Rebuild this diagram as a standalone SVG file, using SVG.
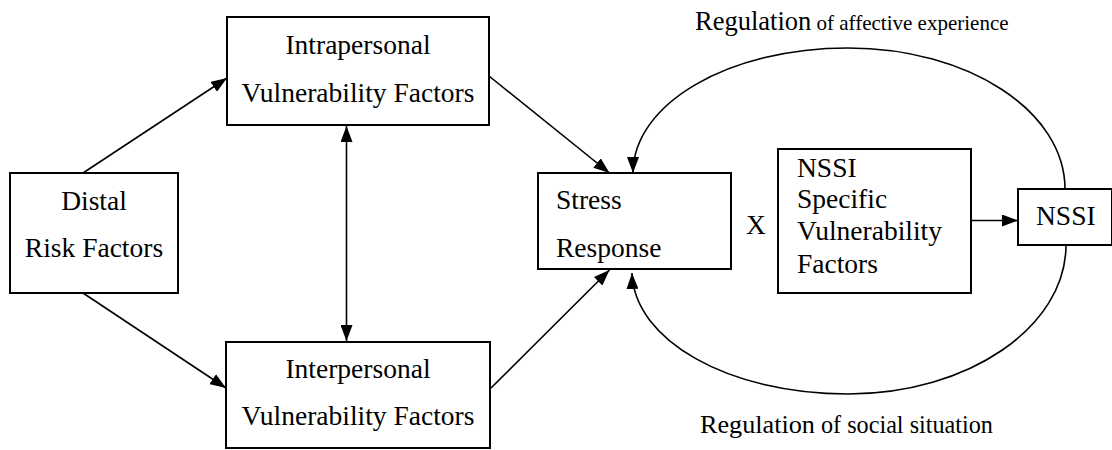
<svg xmlns="http://www.w3.org/2000/svg" width="1112" height="450" viewBox="0 0 1112 450">
<defs>
<style>
.box{fill:#fff;stroke:#000;stroke-width:2}
.t{font-family:"Liberation Serif","Times New Roman",serif;font-size:27.5px;fill:#000}
.c{text-anchor:middle}
.ln{fill:none;stroke:#000;stroke-width:1.6}
</style>
<marker id="ah" viewBox="0 0 16 12" markerWidth="16" markerHeight="12" refX="16" refY="6" orient="auto-start-reverse" markerUnits="userSpaceOnUse">
<path d="M0,0 L16,6 L0,12 z" fill="#000"/>
</marker>
</defs>
<rect width="1112" height="450" fill="#fff"/>
<g id="connectors">
<line class="ln" x1="83" y1="173" x2="227" y2="78" marker-end="url(#ah)"/>
<line class="ln" x1="83" y1="293" x2="226" y2="388" marker-end="url(#ah)"/>
<line class="ln" x1="489" y1="76" x2="609.5" y2="173" marker-end="url(#ah)"/>
<line class="ln" x1="491" y1="388" x2="609.5" y2="270" marker-end="url(#ah)"/>
<line class="ln" x1="346.5" y1="126" x2="346.5" y2="341" marker-start="url(#ah)" marker-end="url(#ah)"/>
<line class="ln" x1="971" y1="220.5" x2="1018" y2="220.5" marker-end="url(#ah)"/>
<path class="ln" d="M1065 189 C1065 111 968 48 848 48 C728 48 633 104 633 173" marker-end="url(#ah)"/>
<path class="ln" d="M1066 245 C1066 327 968 394 848 394 C728 394 634 340 632 273" marker-end="url(#ah)"/>
</g>
<g id="distal">
<rect class="box" x="10" y="173" width="168" height="120"/>
<text class="t c" x="94" y="210">Distal</text>
<text class="t c" x="94" y="257">Risk Factors</text>
</g>
<g id="intrapersonal">
<rect class="box" x="227" y="17" width="262" height="108"/>
<text class="t c" x="358" y="54">Intrapersonal</text>
<text class="t c" x="358" y="102">Vulnerability Factors</text>
</g>
<g id="interpersonal">
<rect class="box" x="226" y="342" width="264" height="106"/>
<text class="t c" x="358" y="378">Interpersonal</text>
<text class="t c" x="358" y="425">Vulnerability Factors</text>
</g>
<g id="stress">
<rect class="box" x="538" y="173" width="193" height="96"/>
<text class="t" x="556" y="209">Stress</text>
<text class="t" x="556" y="257">Response</text>
</g>
<g id="x-label">
<text class="t c" x="756" y="234">X</text>
</g>
<g id="nssi-specific">
<rect class="box" x="778" y="149" width="193" height="144"/>
<text class="t" x="797" y="177">NSSI</text>
<text class="t" x="797" y="208">Specific</text>
<text class="t" x="797" y="240">Vulnerability</text>
<text class="t" x="797" y="273">Factors</text>
</g>
<g id="nssi">
<rect class="box" x="1018" y="189" width="94" height="56"/>
<text class="t" x="1036" y="225">NSSI</text>
</g>
<g id="labels">
<text class="t" x="695" y="30"><tspan font-size="26.5">Regulation</tspan><tspan font-size="21"> of affective experience</tspan></text>
<text class="t" x="700" y="433"><tspan font-size="26.2">Regulation</tspan><tspan font-size="24.2"> of social situation</tspan></text>
</g>
</svg>
